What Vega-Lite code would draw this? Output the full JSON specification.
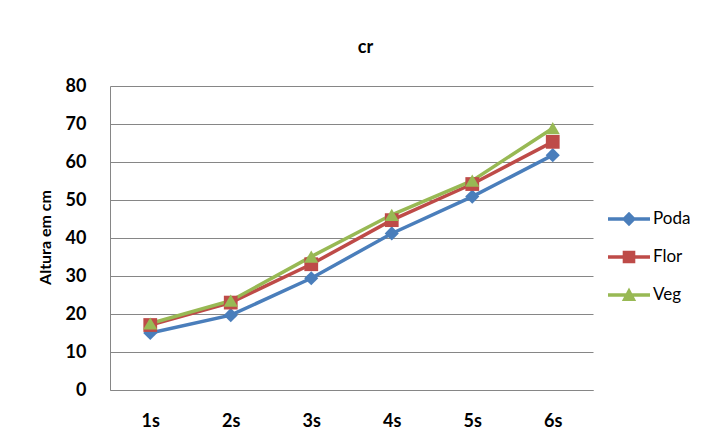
{
  "$schema": "https://vega.github.io/schema/vega-lite/v6.json",
  "autosize": {"type": "none"},
  "width": 483,
  "height": 304,
  "padding": {"left": 110, "top": 86, "right": 122, "bottom": 52},
  "background": "white",
  "title": {"text": "cr", "anchor": "middle", "frame": "group", "offset": 20, "dx": 14, "font": "Lato", "fontSize": 18, "fontWeight": "bold", "color": "#000000"},
  "config": {"view": {"stroke": null}},
  "data": {"values": [
    {"s": "1s", "serie": "Poda", "v": 15.0},
    {"s": "2s", "serie": "Poda", "v": 19.7},
    {"s": "3s", "serie": "Poda", "v": 29.4},
    {"s": "4s", "serie": "Poda", "v": 41.2},
    {"s": "5s", "serie": "Poda", "v": 50.9},
    {"s": "6s", "serie": "Poda", "v": 61.8},
    {"s": "1s", "serie": "Flor", "v": 17.1},
    {"s": "2s", "serie": "Flor", "v": 23.0},
    {"s": "3s", "serie": "Flor", "v": 33.1},
    {"s": "4s", "serie": "Flor", "v": 44.7},
    {"s": "5s", "serie": "Flor", "v": 54.2},
    {"s": "6s", "serie": "Flor", "v": 65.3},
    {"s": "1s", "serie": "Veg", "v": 17.5},
    {"s": "2s", "serie": "Veg", "v": 23.5},
    {"s": "3s", "serie": "Veg", "v": 35.1},
    {"s": "4s", "serie": "Veg", "v": 46.1},
    {"s": "5s", "serie": "Veg", "v": 55.1},
    {"s": "6s", "serie": "Veg", "v": 68.9}
  ]},
  "encoding": {
    "x": {"field": "s", "type": "ordinal", "sort": ["1s","2s","3s","4s","5s","6s"],
      "scale": {"type": "point", "padding": 0.5},
      "axis": {"title": null, "labelAngle": 0, "labelFont": "Lato", "labelFontSize": 18, "labelFontWeight": "bold", "labelColor": "#000000", "labelPadding": 22, "ticks": false, "domainColor": "#868686", "domainWidth": 1, "grid": false}},
    "y": {"field": "v", "type": "quantitative",
      "scale": {"domain": [0, 80], "nice": false, "zero": true},
      "axis": {"title": "Altura em cm", "titleFont": "Lato", "titleFontSize": 16, "titleFontWeight": "bold", "titleColor": "#000000", "titleX": -65, "titleY": 151, "titleAngle": -90, "titleAlign": "center", "titleBaseline": "middle",
        "values": [0,10,20,30,40,50,60,70,80], "labelFont": "Lato", "labelFontSize": 18, "labelFontWeight": "bold", "labelColor": "#000000", "labelPadding": 24, "ticks": false, "domainColor": "#868686", "domainWidth": 1, "grid": true, "gridColor": "#868686", "gridWidth": 1}},
    "color": {"field": "serie", "type": "nominal",
      "scale": {"domain": ["Poda","Flor","Veg"], "range": ["#4A7EBB","#BE4B48","#98B954"]},
      "legend": {"title": null, "orient": "none", "legendX": 498, "legendY": 112, "labelFont": "Lato", "labelFontSize": 17, "labelColor": "#000000", "symbolSize": 1764, "rowPadding": 9, "labelOffset": 3, "symbolType": "M-1,-0.08L1,-0.08L1,0.08L-1,0.08Z",
        "encode": {"symbols": {"update": {
          "shape": {"signal": "datum.value === 'Poda' ? 'M-1,-0.08L1,-0.08L1,0.08L-1,0.08Z M0,-0.34L0.34,0L0,0.34L-0.34,0Z' : datum.value === 'Flor' ? 'M-1,-0.08L1,-0.08L1,0.08L-1,0.08Z M-0.3,-0.3L0.3,-0.3L0.3,0.3L-0.3,0.3Z' : 'M-1,-0.08L1,-0.08L1,0.08L-1,0.08Z M0,-0.36L0.34,0.28L-0.34,0.28Z'"},
          "fill": {"signal": "scale('color', datum.value)"},
          "fillOpacity": {"value": 1},
          "strokeWidth": {"value": 0}
        }}}}
    }
  },
  "layer": [
    {"mark": {"type": "line", "strokeWidth": 3.5}},
    {"transform": [{"filter": "datum.serie === 'Poda'"}],
     "mark": {"type": "point", "filled": true, "opacity": 1, "size": 200, "shape": "diamond"}},
    {"transform": [{"filter": "datum.serie === 'Flor'"}],
     "mark": {"type": "point", "filled": true, "opacity": 1, "size": 190, "shape": "square"}},
    {"transform": [{"filter": "datum.serie === 'Veg'"}],
     "mark": {"type": "point", "filled": true, "opacity": 1, "size": 200, "shape": "triangle-up"}}
  ]
}
